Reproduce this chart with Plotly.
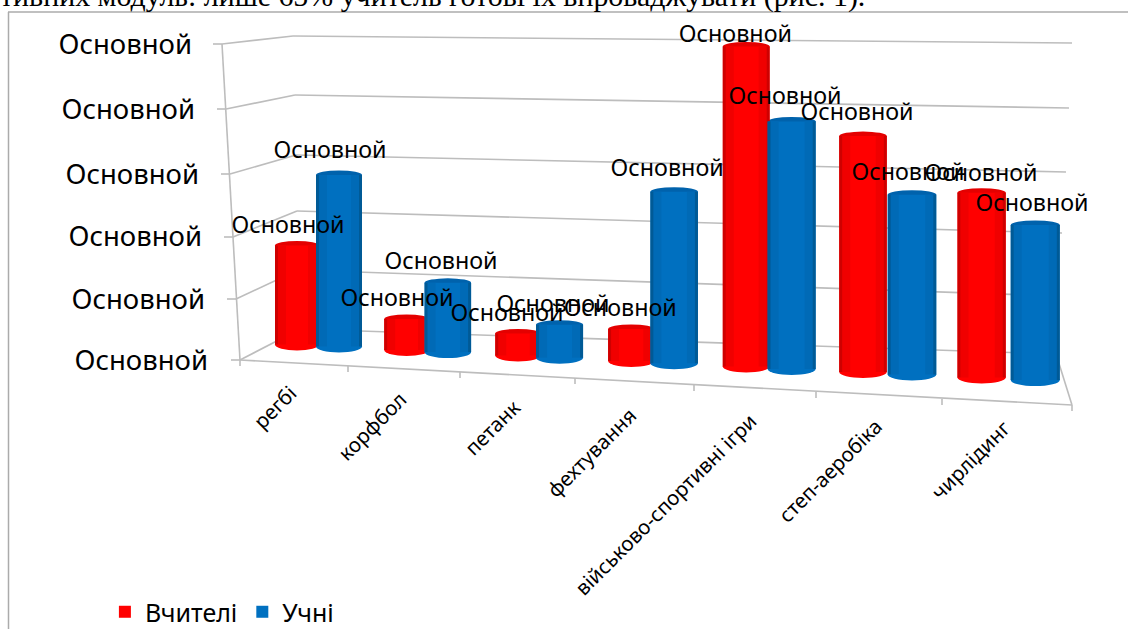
import plotly.graph_objects as go

categories = ["регбі", "корфбол", "петанк", "фехтування", "військово-спортивні ігри", "степ-аеробіка", "чирлідинг"]
teachers = [30, 9.4, 6.7, 9.7, 97, 71.5, 56]
students = [52, 21, 10, 52, 75, 54.5, 47]
y_tick_labels = ["Основной"] * 6
data_label = "Основной"
caption = "тивних модуль: лише 65% учитель готові їх впроваджувати (рис. 1)."

W, H = 1128, 629
PX_PER_UNIT = 3.3
ZERO_PX = 350
FONT = "Noto Sans"
RED, BLUE = "#FF0000", "#0070C0"
RED_D, BLUE_D = "#E40000", "#0062AC"
RED_SHADES = ["#CE0000", "#F00000"]
BLUE_SHADES = ["#005A96", "#006AB6"]
GRID = "#BDBDBD"

def v(py):
    return (ZERO_PX - py) / PX_PER_UNIT

n = len(categories)
idx = list(range(n))
red_x = [297 + 108.7 * i + 0.9 * i * i for i in idx]
blue_x = [339 + 107.4 * i + 1.44 * i * i for i in idx]
red_w = [44 + 0.7 * i for i in idx]
blue_w = [46 + 0.5 * i for i in idx]
red_base = [v(344.5 + 5.5 * i) for i in idx]
blue_base = [v(346.5 + 5.6 * i) for i in idx]

shapes = []
def line(x0, py0, x1, py1, color=GRID, width=1.6):
    shapes.append(dict(type="line", xref="x", yref="y", x0=x0, x1=x1, y0=v(py0), y1=v(py1),
                       line=dict(color=color, width=width), layer="below"))

# walls and grid
left_pts = [(222, 44), (226, 109), (230, 174), (233, 237), (236, 299), (240, 360)]
back_l = [(293, 36), (295, 95), (296, 155), (297, 211), (298, 270), (300, 329)]
back_r = [(1072, 43), (1069, 108), (1066, 172), (1062, 233), (1059, 296), (1056, 354)]
for (lx, ly), (bx, by), (rx, ry) in zip(left_pts, back_l, back_r):
    line(lx, ly, bx, by)
    line(bx, by, rx, ry)
    line(lx - 9, ly, lx, ly)
line(222, 44, 240, 360)
line(240, 360, 1072, 405)
line(1056, 354, 1072, 405)
for tx, ty in [(240, 360), (348, 366), (460, 372), (575, 378), (694, 385), (816, 392), (942, 399), (1072, 405)]:
    line(tx, ty, tx, ty + 6)

def ellipse(cx, cy_val, w, h_px, color):
    shapes.append(dict(type="circle", xref="x", yref="y",
                       x0=cx - w / 2, x1=cx + w / 2,
                       y0=cy_val - h_px / PX_PER_UNIT, y1=cy_val + h_px / PX_PER_UNIT,
                       fillcolor=color, line=dict(color=color, width=0), layer="below"))

for xs, ws, bases, vals, col, bottom in [(red_x, red_w, red_base, teachers, RED_D, RED),
                                         (blue_x, blue_w, blue_base, students, BLUE_D, BLUE)]:
    for x, w, b, val in zip(xs, ws, bases, vals):
        ellipse(x, b, w, 6, bottom)
        ellipse(x, b + val, w, 4.5, col)

fig = go.Figure()

def column_series(name, xs, ws, bases, vals, color, shades):
    fig.add_bar(name=name, x=xs, y=vals, base=bases, width=ws, marker=dict(color=color, line=dict(width=0)))
    # side shading of the cylinders
    for strip, inset, shade in [(8, 3, shades[1]), (3, 0, shades[0])]:
        for sign in (-1, 1):
            fig.add_bar(x=[x + sign * (w / 2 - inset - strip / 2) for x, w in zip(xs, ws)],
                        y=vals, base=bases, width=[strip] * n, showlegend=False, hoverinfo="skip",
                        marker=dict(color=shade, line=dict(width=0)))

column_series("Вчителі", red_x, red_w, red_base, teachers, RED, RED_SHADES)
column_series("Учні", blue_x, blue_w, blue_base, students, BLUE, BLUE_SHADES)

red_dx = [-9, -9.6, -11, -11, -10.8, -6, -0.6]
blue_dx = [-9, -6.8, -6.6, -7, -6.6, -4, -3.2]
red_lift = [18, 19, 18, 19, 10, 22, 18]
blue_lift = [23, 20, 19, 22, 23, 20, 20]
for xs, dxs, lifts, bases, vals in [(red_x, red_dx, red_lift, red_base, teachers),
                                    (blue_x, blue_dx, blue_lift, blue_base, students)]:
    fig.add_scatter(x=[x + d for x, d in zip(xs, dxs)],
                    y=[b + val + l / PX_PER_UNIT for b, val, l in zip(bases, vals, lifts)],
                    mode="text", text=[data_label] * n, textposition="middle center",
                    textfont=dict(family=FONT, size=23.3, color="black"),
                    showlegend=False, hoverinfo="skip", cliponaxis=False)

tick_right = [192, 195, 199, 202, 205, 208]
tick_py = [47, 112, 177, 239, 302, 363]
fig.add_scatter(x=tick_right, y=[v(p) for p in tick_py], mode="text", text=y_tick_labels,
                textposition="middle left", textfont=dict(family=FONT, size=27.5, color="black"),
                showlegend=False, hoverinfo="skip", cliponaxis=False)

label_end = [(305, 377), (415, 383), (529, 390), (645, 398), (765, 404), (891, 409.5), (1018.5, 411.5)]
annotations = [dict(x=x, y=v(py), xref="x", yref="y", text=c, textangle=-45, showarrow=False,
                    xanchor="right", yanchor="top", font=dict(family=FONT, size=20.4, color="black"))
               for c, (x, py) in zip(categories, label_end)]
annotations.append(dict(x=867 / W, y=1, xref="paper", yref="paper", text=caption, showarrow=False,
                        xanchor="right", yanchor="middle", yshift=4,
                        font=dict(family="Liberation Serif", size=29.9, color="black")))

# chart frame
shapes.append(dict(type="line", xref="x", yref="y", x0=8, x1=W, y0=v(12), y1=v(12),
                   line=dict(color="#ABABAB", width=1.5), layer="below"))
shapes.append(dict(type="line", xref="x", yref="y", x0=8.5, x1=8.5, y0=v(12), y1=v(H),
                   line=dict(color="#ABABAB", width=1.5), layer="below"))

fig.update_layout(
    width=W, height=H, margin=dict(l=0, r=0, t=0, b=0, autoexpand=False),
    paper_bgcolor="white", plot_bgcolor="white",
    barmode="overlay", shapes=shapes, annotations=annotations,
    xaxis=dict(range=[0, W], visible=False, fixedrange=True),
    yaxis=dict(range=[v(H), v(0)], visible=False, fixedrange=True),
    legend=dict(orientation="h", x=0.093, y=0.027, xanchor="left", yanchor="middle",
                font=dict(family=FONT, size=25, color="black"), bgcolor="rgba(0,0,0,0)"),
    font=dict(family=FONT),
)
fig.write_html("out.html", config=dict(displayModeBar=False),
               post_script="document.body.style.margin='0';document.body.style.overflow='hidden';")
